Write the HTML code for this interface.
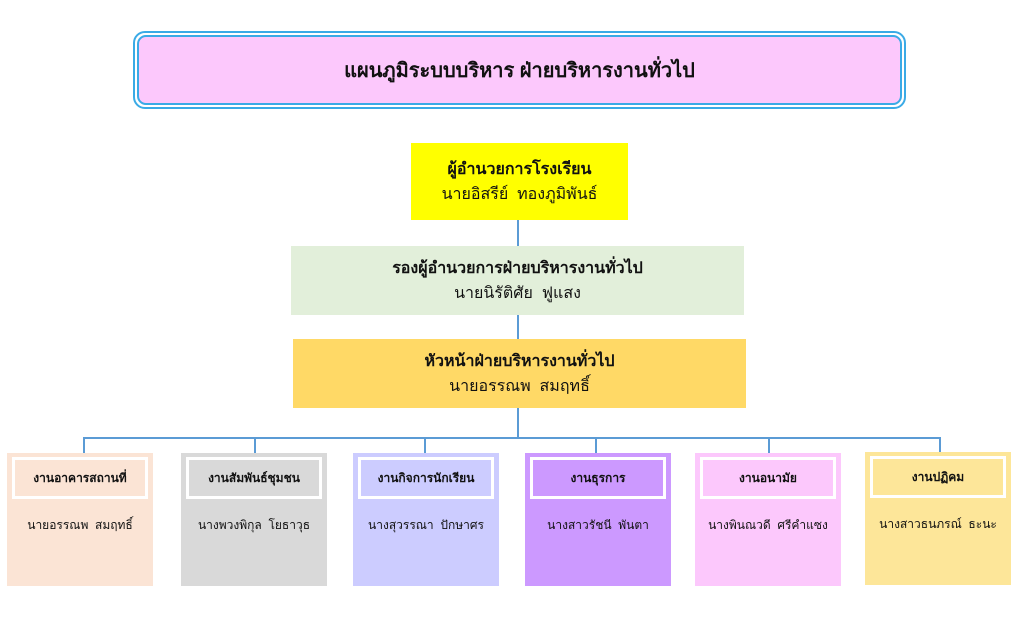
<!DOCTYPE html>
<html><head><meta charset="utf-8"><style>
body{margin:0;width:1024px;height:620px;background:#fff;position:relative;font-family:"Liberation Sans","DejaVu Sans",sans-serif;color:#111;overflow:hidden}
.a{position:absolute;box-sizing:border-box;text-align:center}
.t{left:133px;top:31px;width:773px;height:78px;border:2px solid #3aaae6;border-radius:12px;padding:2px}
.t div{width:100%;height:100%;box-sizing:border-box;border:2px solid #3aaae6;border-radius:9px;background:#fcc8fc;display:flex;align-items:center;justify-content:center;font-size:20px;font-weight:bold}
.n{display:flex;flex-direction:column;justify-content:center;font-size:16px;line-height:25px}
.n b{font-size:16px}
.l{position:absolute;background:#5b9bd5}
.c{width:146px;height:133px;top:453px;font-size:12px}
.c .h{margin:4px 5px 0;height:42px;border:3px solid #fff;box-sizing:border-box;display:flex;align-items:center;justify-content:center;font-weight:bold}
.c .p{margin-top:17px}
</style></head><body>
<div class="a t"><div>แผนภูมิระบบบริหาร ฝ่ายบริหารงานทั่วไป</div></div>
<div class="l" style="left:517px;top:220px;width:2px;height:218px"></div>
<div class="a n" style="left:411px;top:143px;width:217px;height:77px;background:#ffff00"><b>ผู้อำนวยการโรงเรียน</b><span>นายอิสรีย์ &nbsp;ทองภูมิพันธ์</span></div>
<div class="a n" style="left:291px;top:246px;width:453px;height:69px;background:#e2efda"><b>รองผู้อำนวยการฝ่ายบริหารงานทั่วไป</b><span>นายนิรัติศัย &nbsp;ฟูแสง</span></div>
<div class="a n" style="left:293px;top:339px;width:453px;height:69px;background:#ffd966"><b>หัวหน้าฝ่ายบริหารงานทั่วไป</b><span>นายอรรณพ &nbsp;สมฤทธิ์</span></div>
<div class="l" style="left:83px;top:437px;width:858px;height:2px"></div>
<div class="l" style="left:83px;top:437px;width:2px;height:16px"></div>
<div class="l" style="left:254px;top:437px;width:2px;height:16px"></div>
<div class="l" style="left:424px;top:437px;width:2px;height:16px"></div>
<div class="l" style="left:595px;top:437px;width:2px;height:16px"></div>
<div class="l" style="left:768px;top:437px;width:2px;height:16px"></div>
<div class="l" style="left:939px;top:437px;width:2px;height:16px"></div>
<div class="a c" style="left:7px;background:#fbe4d5"><div class="h">งานอาคารสถานที่</div><div class="p">นายอรรณพ &nbsp;สมฤทธิ์</div></div>
<div class="a c" style="left:181px;background:#d9d9d9"><div class="h">งานสัมพันธ์ชุมชน</div><div class="p">นางพวงพิกุล &nbsp;โยธาวุธ</div></div>
<div class="a c" style="left:353px;background:#ccccff"><div class="h">งานกิจการนักเรียน</div><div class="p">นางสุวรรณา &nbsp;ปักษาศร</div></div>
<div class="a c" style="left:525px;background:#cc99ff"><div class="h">งานธุรการ</div><div class="p">นางสาวรัชนี &nbsp;พันตา</div></div>
<div class="a c" style="left:695px;background:#fcc8fc"><div class="h">งานอนามัย</div><div class="p">นางพินณวดี &nbsp;ศรีคำแซง</div></div>
<div class="a c" style="left:865px;top:452px;background:#fde699"><div class="h">งานปฏิคม</div><div class="p">นางสาวธนภรณ์ &nbsp;ธะนะ</div></div>
</body></html>
